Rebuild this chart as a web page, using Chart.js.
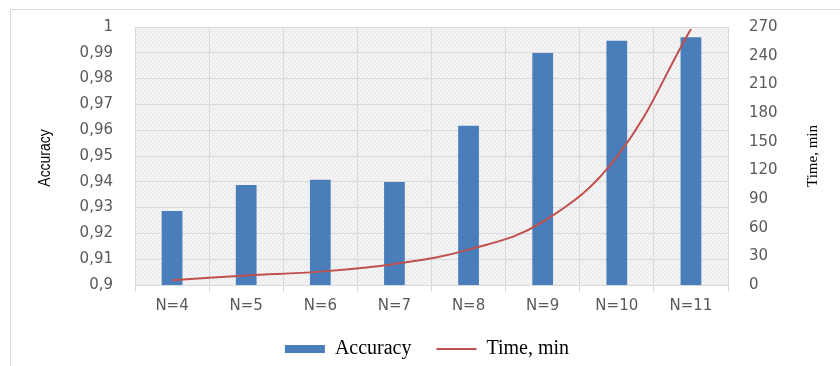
<!DOCTYPE html>
<html>
<head>
<meta charset="utf-8">
<script src="https://cdn.jsdelivr.net/npm/chart.js@4/dist/chart.umd.min.js"></script>
<style>
  html, body { margin: 0; padding: 0; background: #fff; }
  #wrap { width: 840px; height: 366px; }
</style>
</head>
<body>
<div id="wrap"><canvas id="chart" width="840" height="366"></canvas></div>
<script>
var categories = ["N=4", "N=5", "N=6", "N=7", "N=8", "N=9", "N=10", "N=11"];
var accuracy = [0.9287, 0.9388, 0.9408, 0.9399, 0.9617, 0.9899, 0.9947, 0.996];
var timeMin = [5, 10, 14, 22, 37, 66, 134, 268];

// light hatched fill like the original plot area
function hatch() {
    var c = document.createElement('canvas');
    c.width = 4; c.height = 4;
    var g = c.getContext('2d');
    g.fillStyle = '#f4f4f4';
    g.fillRect(0, 0, 4, 4);
    g.fillStyle = '#e6e6e6';
    g.fillRect(0, 3, 1, 1);
    g.fillRect(1, 2, 1, 1);
    g.fillRect(2, 1, 1, 1);
    g.fillRect(3, 0, 1, 1);
    return g.createPattern(c, 'repeat');
}

var decor = {
    id: 'decor',
    beforeDraw: function (chart) {
        var ctx = chart.ctx, a = chart.chartArea;
        ctx.save();
        ctx.fillStyle = hatch();
        ctx.fillRect(a.left, a.top, a.right - a.left, a.bottom - a.top);
        // outer frame
        ctx.strokeStyle = '#d9d9d9';
        ctx.lineWidth = 1;
        ctx.beginPath();
        ctx.moveTo(10.5, 366);
        ctx.lineTo(10.5, 9.5);
        ctx.lineTo(840, 9.5);
        ctx.stroke();
        ctx.restore();
    },
    afterDraw: function (chart) {
        var ctx = chart.ctx;
        ctx.save();
        ctx.fillStyle = '#000';
        ctx.textAlign = 'center';
        ctx.textBaseline = 'middle';
        ctx.translate(45, 158);
        ctx.rotate(-Math.PI / 2);
        ctx.scale(0.82, 1);
        ctx.font = '17px "Liberation Sans", sans-serif';
        ctx.fillText('Accuracy', 0, 0);
        ctx.restore();
        ctx.save();
        ctx.fillStyle = '#000';
        ctx.textAlign = 'center';
        ctx.textBaseline = 'middle';
        ctx.translate(813, 156);
        ctx.rotate(-Math.PI / 2);
        ctx.font = '15px "Liberation Serif", serif';
        ctx.fillText('Time, min', 0, 0);
        ctx.restore();
    }
};

var tickFont = { family: '"DejaVu Sans", sans-serif', size: 15 };

new Chart(document.getElementById('chart').getContext('2d'), {
    type: 'bar',
    data: {
        labels: categories,
        datasets: [{
            type: 'line',
            label: 'Time, min',
            data: timeMin,
            yAxisID: 'y2',
            borderColor: '#c0504d',
            backgroundColor: '#c0504d',
            borderWidth: 2,
            pointRadius: 0,
            pointStyle: 'line',
            tension: 0.4,
            clip: false,
            order: 1
        }, {
            label: 'Accuracy',
            data: accuracy,
            yAxisID: 'y',
            backgroundColor: '#4a7ebb',
            borderWidth: 0,
            pointStyle: 'rect',
            categoryPercentage: 1,
            barPercentage: 0.28,
            order: 2
        }]
    },
    options: {
        responsive: false,
        animation: false,
        layout: { padding: { top: 27, bottom: 0, left: 14, right: 0 } },
        plugins: {
            legend: {
                position: 'bottom',
                reverse: true,
                maxHeight: 52,
                labels: {
                    usePointStyle: true,
                    pointStyleWidth: 40,
                    boxHeight: 8,
                    padding: 25,
                    color: '#000',
                    font: { family: '"Liberation Serif", serif', size: 20 }
                }
            },
            tooltip: { enabled: false }
        },
        scales: {
            x: {
                offset: true,
                grid: { offset: true, color: '#d9d9d9', tickLength: 7, tickColor: '#d9d9d9' },
                border: { color: '#d9d9d9' },
                ticks: { color: '#595959', font: tickFont, padding: 5, maxRotation: 0 },
                afterFit: function (s) { s.height = 29; }
            },
            y: {
                position: 'left',
                min: 0.9,
                max: 1,
                grid: { color: '#d9d9d9', tickLength: 20, tickColor: 'rgba(0,0,0,0)' },
                border: { display: false },
                ticks: {
                    stepSize: 0.01,
                    color: '#595959',
                    font: tickFont,
                    padding: 2,
                    callback: function (v) { return String(+v.toFixed(2)).replace('.', ','); }
                },
                afterFit: function (s) { s.width = 121; }
            },
            y2: {
                position: 'right',
                min: 0,
                max: 270,
                grid: { drawOnChartArea: false, tickLength: 19, tickColor: 'rgba(0,0,0,0)' },
                border: { display: false },
                ticks: { stepSize: 30, color: '#595959', font: tickFont, padding: 2 },
                afterFit: function (s) { s.width = 112; }
            }
        }
    },
    plugins: [decor]
});
</script>
</body>
</html>
